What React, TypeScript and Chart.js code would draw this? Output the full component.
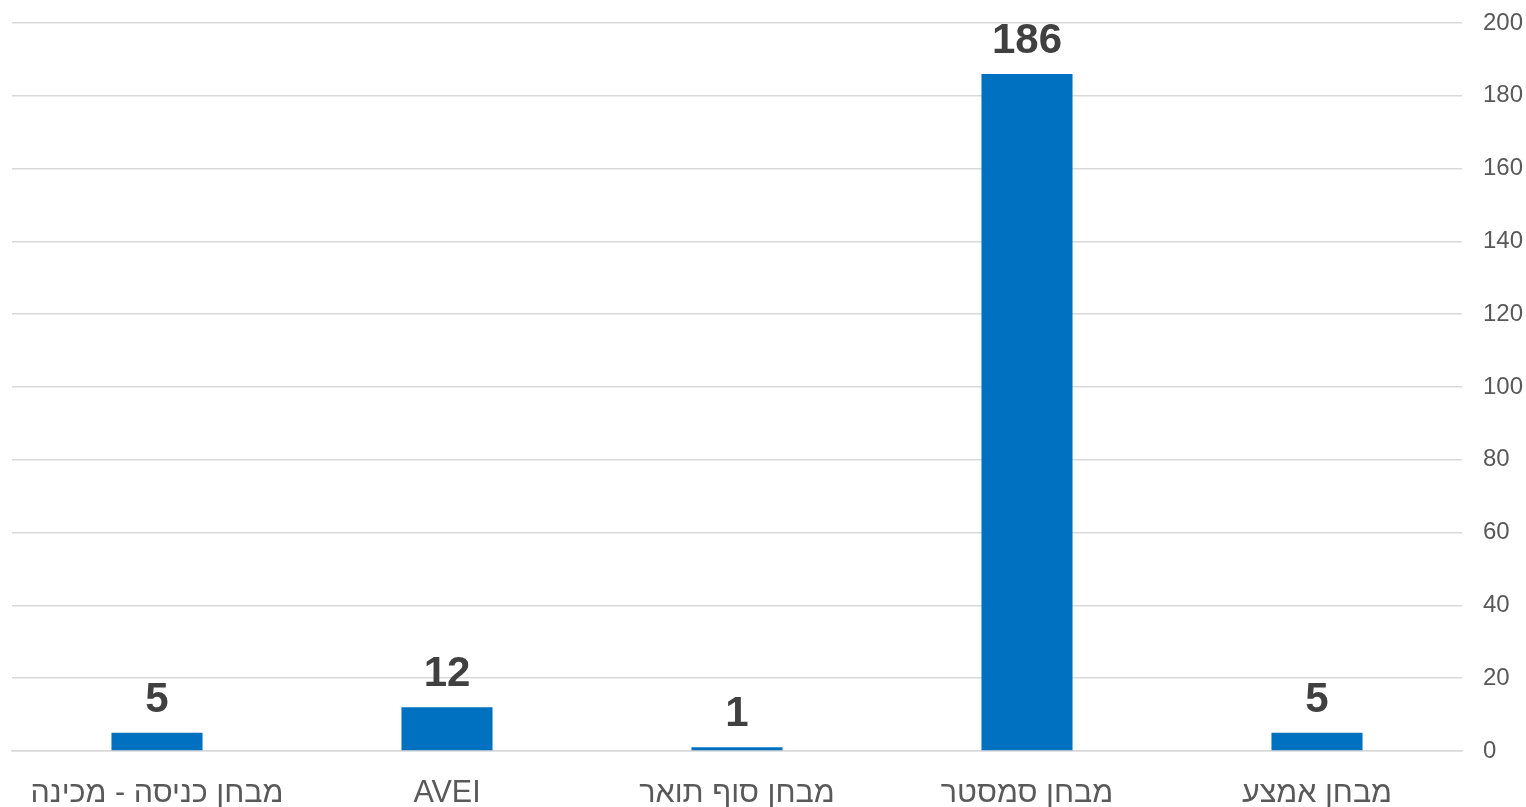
import React, { useEffect, useRef } from "react";
import { Chart, registerables } from "chart.js";

Chart.register(...registerables);

const categories = ["מבחן כניסה - מכינה", "AVEI", "מבחן סוף תואר", "מבחן סמסטר", "מבחן אמצע"];
const values = [5, 12, 1, 186, 5];
const yMin = 0;
const yMax = 200;
const yStep = 20;

const FONT = "'Liberation Sans', Arial, sans-serif";

const valueLabels = {
  id: "valueLabels",
  afterDatasetsDraw(chart: any) {
    const ctx = chart.ctx;
    const meta = chart.getDatasetMeta(0);
    ctx.save();
    ctx.font = `bold 42px ${FONT}`;
    ctx.fillStyle = "#404040";
    ctx.textAlign = "center";
    ctx.textBaseline = "alphabetic";
    meta.data.forEach((bar: any, i: number) => {
      ctx.fillText(String(values[i]), bar.x, bar.y - 21);
    });
    ctx.restore();
  },
};

export default function App() {
  const ref = useRef<HTMLCanvasElement>(null);
  useEffect(() => {
    document.body.style.margin = "0";
    const chart = new Chart(ref.current!, {
      type: "bar",
      data: {
        labels: categories,
        datasets: [
          {
            data: values,
            backgroundColor: "#0070c0",
            categoryPercentage: 1,
            barPercentage: 0.314,
          },
        ],
      },
      options: {
        animation: false,
        responsive: false,
        maintainAspectRatio: false,
        layout: { padding: { left: 12, right: 0, top: 23, bottom: 0 } },
        plugins: { legend: { display: false }, tooltip: { enabled: false } },
        scales: {
          x: {
            grid: { display: false, drawTicks: false },
            border: { display: true, color: "#d9d9d9", width: 1.5 },
            ticks: {
              color: "#595959",
              font: { family: FONT, size: 30.5 },
              padding: 24,
              maxRotation: 0,
              autoSkip: false,
            },
            afterFit: (scale: any) => {
              scale.height = 56;
              scale.paddingLeft = 0;
              scale.paddingRight = 0;
            },
          },
          y: {
            position: "right",
            min: yMin,
            max: yMax,
            grid: { color: "#d9d9d9", lineWidth: 1.5, drawTicks: false },
            border: { display: false },
            ticks: {
              stepSize: yStep,
              color: "#595959",
              font: { family: FONT, size: 24 },
              padding: 21,
            },
            afterFit: (scale: any) => {
              scale.width = 64;
              scale.paddingTop = 0;
              scale.paddingBottom = 0;
            },
          },
        },
      },
      plugins: [valueLabels],
    });
    return () => chart.destroy();
  }, []);
  return (
    <div style={{ position: "absolute", left: 0, top: 0, width: 1526, height: 807 }}>
      <canvas ref={ref} width={1526} height={807} style={{ display: "block" }} />
    </div>
  );
}
